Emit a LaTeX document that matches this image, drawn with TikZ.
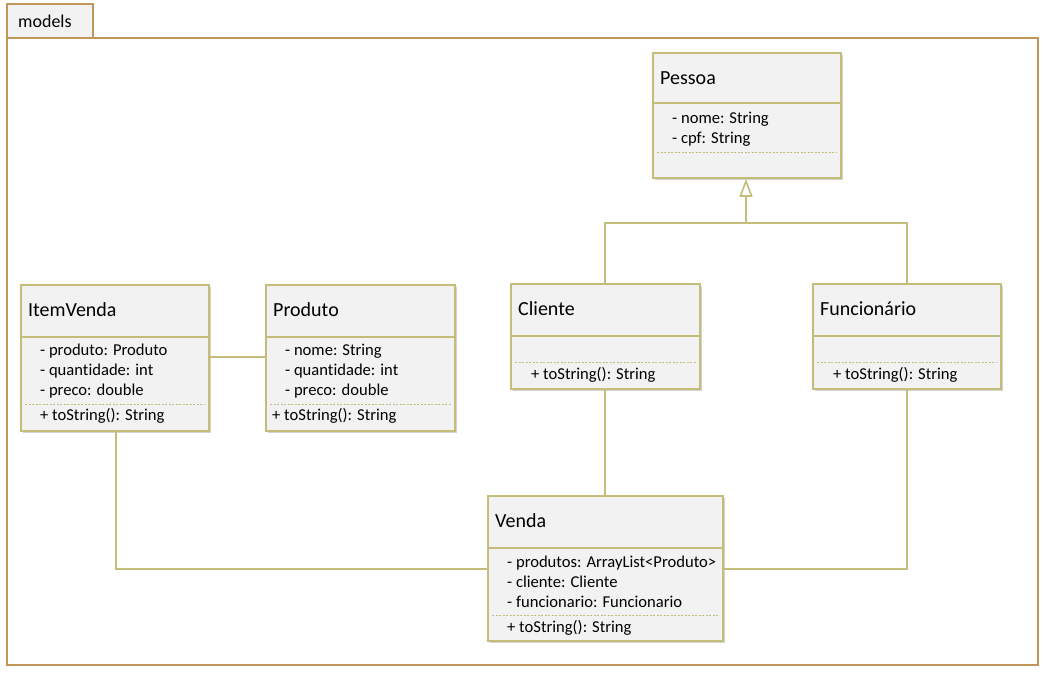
\documentclass[tikz,border=0pt]{standalone}
\usepackage{fontspec}
\setmainfont[Ligatures=NoCommon]{Carlito}
\usetikzlibrary{shadows,arrows.meta}
\definecolor{frame}{HTML}{C0965A}
\definecolor{olive}{HTML}{C4BD7A}
\definecolor{boxfill}{HTML}{F2F2F2}
\tikzset{
  cls/.style={draw=olive, line width=1.6pt, fill=boxfill, rectangle, inner sep=0pt,
    drop shadow={opacity=0.35, shadow xshift=2pt, shadow yshift=-2pt}},
  cname/.style={anchor=west, inner sep=0pt, font=\fontsize{20}{24}\selectfont},
  attr/.style={anchor=west, inner sep=0pt, font=\fontsize{16.6}{20}\selectfont, align=left},
  div/.style={draw=olive, line width=1.6pt},
  dsep/.style={draw=olive, line width=0.8pt, dash pattern=on 2pt off 1.5pt},
  conn/.style={draw=olive, line width=1.6pt},
}
\begin{document}
\begin{tikzpicture}[x=1pt,y=-1pt]
\useasboundingbox (0,0) rectangle (1045,675);
% package
\draw[frame, line width=1.6pt, fill=boxfill] (7,4) rectangle (93,38);
\node[attr, font=\fontsize{18}{20}\selectfont] (pkg) at (18,21) {models};
\draw[frame, line width=1.6pt] (7,38) rectangle (1038,665);

% Pessoa
\node[cls, minimum width=188pt, minimum height=125pt] (pessoa) at (747,115.5) {};
\draw[div] (653,103) -- (841,103);
\draw[dsep] (657,152) -- (837,152);
\node[cname] (pessoaN) at (660,78) {Pessoa};
\node[attr] (pessoaA) at (672,129.5) {- nome: String\\ - cpf: String};

% ItemVenda
\node[cls, minimum width=188pt, minimum height=146pt] (item) at (115,358) {};
\draw[div] (21,337) -- (209,337);
\draw[dsep] (25,404) -- (205,404);
\node[cname] (itemN) at (28,310) {ItemVenda};
\node[attr] (itemA) at (40,371) {- produto: Produto\\ - quantidade: int\\ - preco: double};
\node[attr] (itemM) at (40,416) {+ toString(): String};

% Produto
\node[cls, minimum width=189pt, minimum height=146pt] (prod) at (360.5,358) {};
\draw[div] (266,337) -- (455,337);
\draw[dsep] (270,404) -- (451,404);
\node[cname] (prodN) at (273,310) {Produto};
\node[attr] (prodA) at (285,371) {- nome: String\\ - quantidade: int\\ - preco: double};
\node[attr] (prodM) at (272,416) {+ toString(): String};

% Cliente
\node[cls, minimum width=189pt, minimum height=105pt] (cli) at (605.5,336.5) {};
\draw[div] (511,336) -- (700,336);
\draw[dsep] (515,362) -- (696,362);
\node[cname] (cliN) at (518,309) {Cliente};
\node[attr] (cliM) at (531,375) {+ toString(): String};

% Funcionario
\node[cls, minimum width=188pt, minimum height=105pt] (func) at (907,336.5) {};
\draw[div] (813,336) -- (1001,336);
\draw[dsep] (817,362) -- (997,362);
\node[cname] (funcN) at (820,309) {Funcionário};
\node[attr] (funcM) at (833,375) {+ toString(): String};

% Venda
\node[cls, minimum width=235pt, minimum height=145pt] (venda) at (605.5,568.5) {};
\draw[div] (488,548) -- (723,548);
\draw[dsep] (492,615) -- (719,615);
\node[cname] (vendaN) at (495,521) {Venda};
\node[attr] (vendaA) at (507,582) {- produtos: ArrayList<Produto>\\ - cliente: Cliente\\ - funcionario: Funcionario};
\node[attr] (vendaM) at (507,628) {+ toString(): String};

% connectors
\coordinate (jn) at (746,223);
\draw[conn, -{Triangle[open, width=13pt, length=18pt, line width=1.6pt]}] (jn) -- (pessoa.south -| jn);
\coordinate (cj) at (605,223);
\coordinate (fj) at (907,223);
\draw[conn] (cli.north -| cj) -- (cj) -- (fj) -- (func.north);
\draw[conn] (item.east |- 0,357) -- (prod.west |- 0,357);
\draw[conn] (cli.south -| cj) -- (venda.north -| cj);
\coordinate (iv) at (116,569);
\draw[conn] (item.south -| iv) -- (iv) -- (venda.west |- iv);
\coordinate (fv) at (907,569);
\draw[conn] (func.south) -- (fv) -- (venda.east |- fv);
\end{tikzpicture}
\end{document}
